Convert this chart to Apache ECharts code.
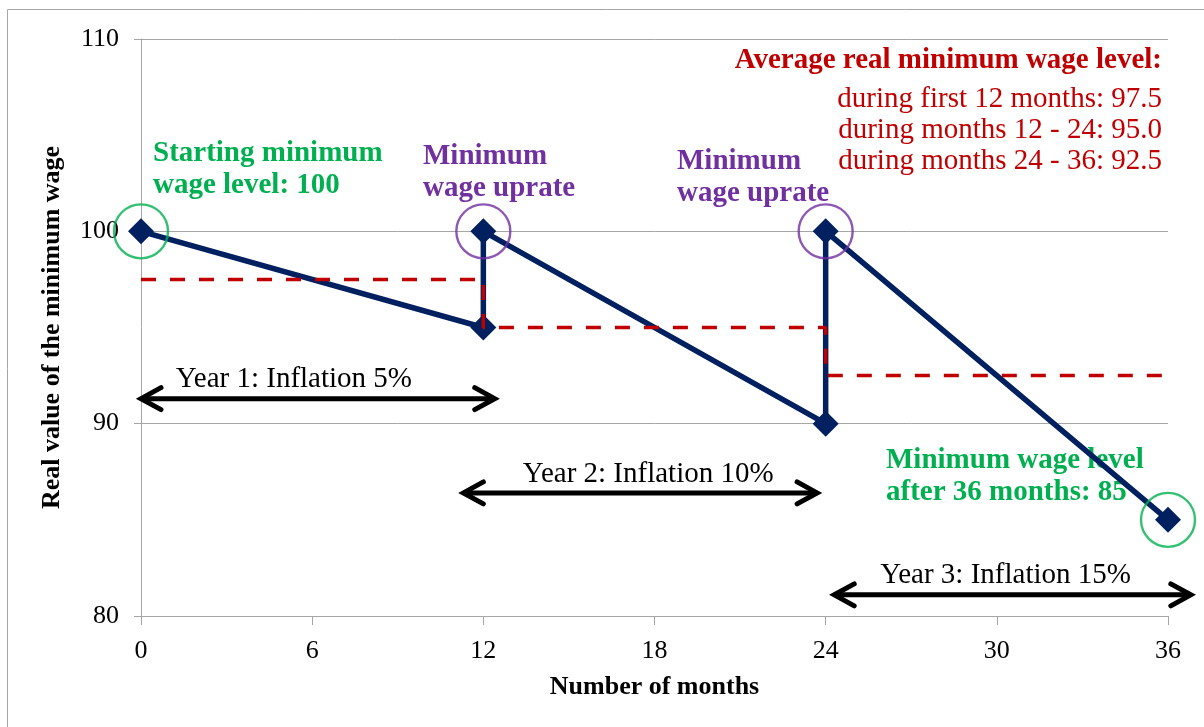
<!DOCTYPE html>
<html>
<head>
<meta charset="utf-8">
<script src="https://cdn.jsdelivr.net/npm/echarts@6/dist/echarts.min.js"></script>
<style>
html,body{margin:0;padding:0;background:#fff;}
#chart{width:1204px;height:727px;}
</style>
</head>
<body>
<div id="chart"></div>
<script>
// ---- data ----
const months = [0, 12, 12, 24, 24, 36];
const wageLevel = [100, 95, 100, 90, 100, 85];
const avgMonths = [0, 12, 12, 24, 24, 36];
const avgLevel = [97.5, 97.5, 95, 95, 92.5, 92.5];
const greenCircleMonths = [0, 36];
const greenCircleLevel = [100, 85];
const purpleCircleMonths = [12, 24];
const purpleCircleLevel = [100, 100];
const arrowStart = [0, 11.3, 24.3];
const arrowEnd = [12.4, 23.7, 36.8];
const arrowLevel = [91.3, 86.4, 81.1];
const arrowLabels = ['Year 1: Inflation 5%', 'Year 2: Inflation 10%', 'Year 3: Inflation 15%'];
const avgTitle = 'Average real minimum wage level:';
const avgLines = ['during first 12 months: 97.5', 'during months 12 - 24: 95.0', 'during months 24 - 36: 92.5'];

const FONT = 'Liberation Serif';
const NAVY = '#002060';
const RED = '#c00000';
const GREEN = '#00b050';
const PURPLE = '#7030a0';
const GRAY = '#a6a6a6';

const pair = (xs, ys) => xs.map((x, i) => [x, ys[i]]);

const chart = echarts.init(document.getElementById('chart'), null, {renderer: 'canvas'});

const BOLD = 'bold 29px "' + FONT + '"';
const REG = '29px "' + FONT + '"';

const option = {
  animation: false,
  backgroundColor: '#fff',
  textStyle: {fontFamily: FONT},
  grid: {left: 141, right: 36, top: 39, bottom: 111},
  xAxis: {
    type: 'value', min: 0, max: 36, interval: 6,
    name: 'Number of months', nameLocation: 'middle', nameGap: 58,
    nameTextStyle: {fontFamily: FONT, fontSize: 26, fontWeight: 'bold', color: '#000'},
    axisLine: {show: true, lineStyle: {color: GRAY, width: 1}},
    axisTick: {show: true, inside: false, length: 9, lineStyle: {color: GRAY}},
    axisLabel: {fontFamily: FONT, fontSize: 26, color: '#000', margin: 22},
    splitLine: {show: false}
  },
  yAxis: {
    type: 'value', min: 80, max: 110, interval: 10,
    name: 'Real value of the minimum wage', nameLocation: 'middle', nameGap: 76,
    nameTextStyle: {fontFamily: FONT, fontSize: 26, fontWeight: 'bold', color: '#000'},
    axisLine: {show: true, lineStyle: {color: GRAY, width: 1}},
    axisTick: {show: true, inside: false, length: 7, lineStyle: {color: GRAY}},
    axisLabel: {fontFamily: FONT, fontSize: 26, color: '#000', margin: 22},
    splitLine: {show: true, lineStyle: {color: GRAY, width: 1}}
  },
  series: [
    {
      type: 'line', name: 'wage', z: 3,
      data: pair(months, wageLevel),
      lineStyle: {color: NAVY, width: 5.5},
      symbol: 'diamond', symbolSize: 26,
      itemStyle: {color: NAVY},
      showAllSymbol: true
    },
    {
      type: 'line', name: 'average', z: 4,
      data: pair(avgMonths, avgLevel),
      lineStyle: {color: RED, width: 3.5, type: [15, 14]},
      symbol: 'none'
    },
    {
      type: 'scatter', z: 5,
      data: pair(greenCircleMonths, greenCircleLevel),
      symbol: 'circle', symbolSize: 54,
      itemStyle: {color: 'rgba(0,0,0,0)', borderColor: GREEN, borderWidth: 2.4}
    },
    {
      type: 'scatter', z: 5,
      data: pair(purpleCircleMonths, purpleCircleLevel),
      symbol: 'circle', symbolSize: 54,
      itemStyle: {color: 'rgba(0,0,0,0)', borderColor: PURPLE, borderWidth: 2.4}
    },
    {
      type: 'custom', z: 6, clip: false,
      data: arrowStart.map((s, i) => [s, arrowEnd[i], arrowLevel[i], i]),
      renderItem: function (params, api) {
        const p1 = api.coord([api.value(0), api.value(2)]);
        const p2 = api.coord([api.value(1), api.value(2)]);
        const i = api.value(3);
        const ax = 20, ay = 11;
        const st = {stroke: '#000', lineWidth: 5, fill: null, lineCap: 'round', lineJoin: 'miter'};
        return {
          type: 'group',
          children: [
            {type: 'line', shape: {x1: p1[0] + 2, y1: p1[1], x2: p2[0] - 2, y2: p2[1]}, style: st},
            {type: 'polyline', shape: {points: [[p1[0] + ax, p1[1] - ay], [p1[0], p1[1]], [p1[0] + ax, p1[1] + ay]]}, style: st},
            {type: 'polyline', shape: {points: [[p2[0] - ax, p2[1] - ay], [p2[0], p2[1]], [p2[0] - ax, p2[1] + ay]]}, style: st},
            {type: 'text', x: (p1[0] + p2[0]) / 2 + (i === 0 ? -24 : (i === 1 ? 8 : -7)), y: p1[1] - 19,
              style: {text: arrowLabels[i], fill: '#000', font: REG, align: 'center', verticalAlign: 'middle'}}
          ]
        };
      }
    }
  ],
  graphic: [
    {type: 'rect', silent: true, z: -1, shape: {x: 7.5, y: 9.5, width: 1300, height: 800}, style: {fill: null, stroke: GRAY, lineWidth: 1}},
    {type: 'text', x: 153, y: 154, style: {text: 'Starting minimum', fill: GREEN, font: BOLD, verticalAlign: 'middle'}},
    {type: 'text', x: 153, y: 186, style: {text: 'wage level: 100', fill: GREEN, font: BOLD, verticalAlign: 'middle'}},
    {type: 'text', x: 423, y: 157, style: {text: 'Minimum', fill: PURPLE, font: BOLD, verticalAlign: 'middle'}},
    {type: 'text', x: 423, y: 189, style: {text: 'wage uprate', fill: PURPLE, font: BOLD, verticalAlign: 'middle'}},
    {type: 'text', x: 677, y: 162, style: {text: 'Minimum', fill: PURPLE, font: BOLD, verticalAlign: 'middle'}},
    {type: 'text', x: 677, y: 194, style: {text: 'wage uprate', fill: PURPLE, font: BOLD, verticalAlign: 'middle'}},
    {type: 'text', x: 886, y: 461, style: {text: 'Minimum wage level', fill: GREEN, font: BOLD, verticalAlign: 'middle'}},
    {type: 'text', x: 886, y: 493, style: {text: 'after 36 months: 85', fill: GREEN, font: BOLD, verticalAlign: 'middle'}},
    {type: 'text', x: 1162, y: 61, style: {text: avgTitle, fill: RED, font: BOLD, align: 'right', verticalAlign: 'middle'}},
    {type: 'text', x: 1162, y: 99, style: {text: avgLines[0], fill: RED, font: REG, align: 'right', verticalAlign: 'middle'}},
    {type: 'text', x: 1162, y: 130, style: {text: avgLines[1], fill: RED, font: REG, align: 'right', verticalAlign: 'middle'}},
    {type: 'text', x: 1162, y: 161, style: {text: avgLines[2], fill: RED, font: REG, align: 'right', verticalAlign: 'middle'}}
  ]
};
chart.setOption(option);
</script>
</body>
</html>
